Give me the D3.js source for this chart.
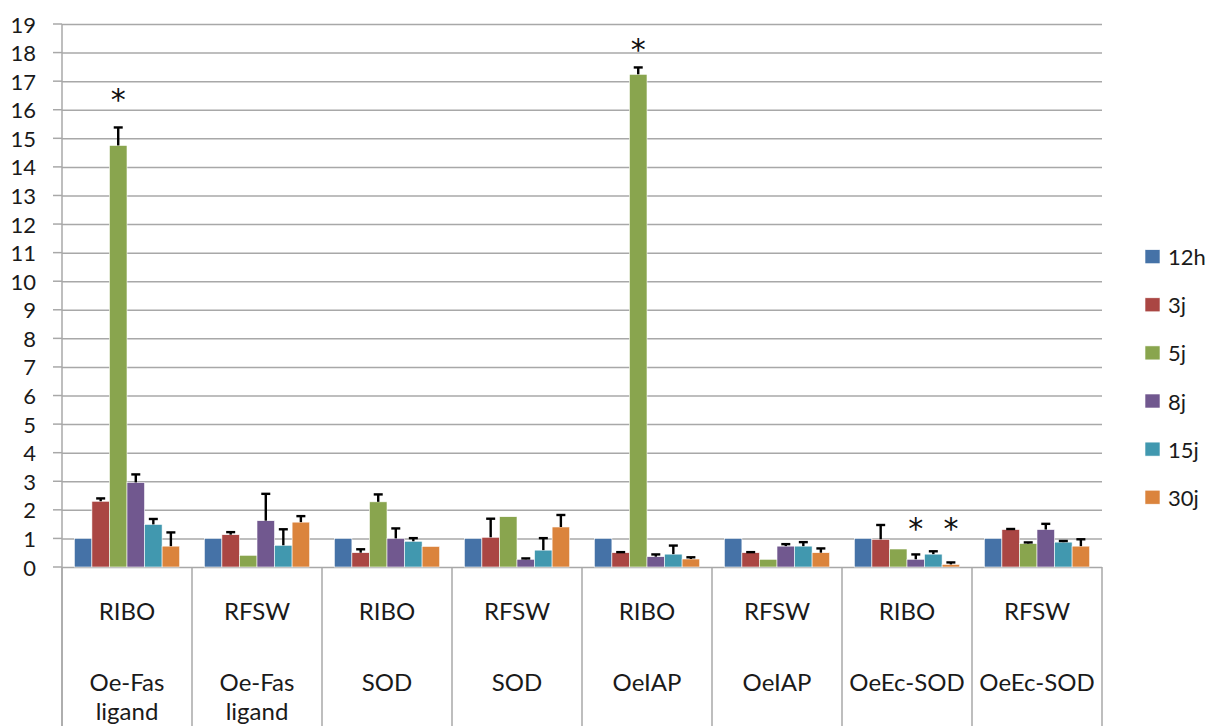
<!DOCTYPE html>
<html>
<head>
<meta charset="utf-8">
<script src="https://cdn.jsdelivr.net/npm/d3@7"></script>
<style>
  html, body { margin: 0; padding: 0; background: #fff; }
  svg { display: block; font-family: Lato, "Open Sans", sans-serif; }
</style>
</head>
<body>
<svg id="chart" width="1212" height="726"></svg>
<script>
// ---- data ----
const catLine1 = ["RIBO", "RFSW", "RIBO", "RFSW", "RIBO", "RFSW", "RIBO", "RFSW"];
const catLine2 = ["Oe-Fas\nligand", "Oe-Fas\nligand", "SOD", "SOD", "OeIAP", "OeIAP", "OeEc-SOD", "OeEc-SOD"];
const seriesNames = ["12h", "3j", "5j", "8j", "15j", "30j"];
const seriesColors = ["#4572A7", "#AA4643", "#89A54E", "#71588F", "#4198AF", "#DB843D"];

const v12h = [1, 1, 1, 1, 1, 1, 1, 1];
const v3j  = [2.30, 1.13, 0.50, 1.04, 0.50, 0.50, 0.97, 1.31];
const v5j  = [14.75, 0.41, 2.28, 1.76, 17.24, 0.27, 0.63, 0.82];
const v8j  = [2.96, 1.62, 1.00, 0.27, 0.36, 0.73, 0.27, 1.31];
const v15j = [1.49, 0.76, 0.90, 0.59, 0.45, 0.73, 0.45, 0.87];
const v30j = [0.73, 1.57, 0.72, 1.40, 0.28, 0.50, 0.09, 0.73];

const e12h = [0, 0, 0, 0, 0, 0, 0, 0];
const e3j  = [0.10, 0.09, 0.12, 0.65, 0.02, 0.02, 0.50, 0.02];
const e5j  = [0.63, 0, 0.26, 0, 0.24, 0, 0, 0.04];
const e8j  = [0.28, 0.94, 0.35, 0.03, 0.08, 0.07, 0.17, 0.20];
const e15j = [0.19, 0.56, 0.11, 0.42, 0.30, 0.14, 0.10, 0.04];
const e30j = [0.48, 0.21, 0, 0.42, 0.06, 0.15, 0.07, 0.24];

const yTicks = d3.range(0, 20);
// significance marks: category index, series index, y value of the mark
const starCat    = [0, 4, 6, 6];
const starSeries = [2, 2, 3, 5];
const starY      = [16.45, 18.2, 1.42, 1.42];

const values = [v12h, v3j, v5j, v8j, v15j, v30j];
const errors = [e12h, e3j, e5j, e8j, e15j, e30j];

// ---- layout ----
const svg = d3.select("#chart");
const plot = { left: 62, right: 1102, top: 24, bottom: 567 };

const y = d3.scaleLinear().domain([0, 19]).range([plot.bottom, plot.top]);
const x0 = d3.scaleBand().domain(d3.range(catLine1.length)).range([plot.left, plot.right]).padding(0);
const x1 = d3.scaleBand().domain(d3.range(seriesNames.length))
  .range([x0.bandwidth() * 0.095, x0.bandwidth() * 0.905]).padding(0);

const gridColor = "#a8a8a8";

// gridlines
const yAxis = d3.axisLeft(y).tickValues(yTicks).tickSize(-(plot.right - plot.left)).tickPadding(0).tickFormat("");
const gy = svg.append("g").attr("transform", `translate(${plot.left},0)`).call(yAxis);
gy.select(".domain").remove();
gy.selectAll(".tick line").attr("stroke", gridColor).attr("stroke-width", 1.5);
// outward tick marks
svg.append("g").selectAll("line").data(yTicks).join("line")
  .attr("x1", 53).attr("x2", plot.left)
  .attr("y1", d => y(d)).attr("y2", d => y(d))
  .attr("stroke", gridColor).attr("stroke-width", 1.5);
// tick labels
svg.append("g").selectAll("text").data(yTicks).join("text")
  .attr("x", 36).attr("y", d => y(d))
  .attr("text-anchor", "end").attr("dominant-baseline", "central")
  .attr("font-size", 22).attr("fill", "#1a1a1a")
  .text(d => d);

// left axis line
svg.append("line").attr("x1", plot.left).attr("x2", plot.left)
  .attr("y1", plot.top).attr("y2", 726)
  .attr("stroke", gridColor).attr("stroke-width", 1.5);
// category divider lines below the axis
svg.append("g").selectAll("line").data(d3.range(catLine1.length + 1)).join("line")
  .attr("x1", i => plot.left + i * x0.bandwidth())
  .attr("x2", i => plot.left + i * x0.bandwidth())
  .attr("y1", plot.bottom).attr("y2", 726)
  .attr("stroke", gridColor).attr("stroke-width", 1.5);

// bars
const groups = svg.append("g").selectAll("g").data(d3.range(catLine1.length)).join("g")
  .attr("transform", c => `translate(${x0(c)},0)`);

groups.selectAll("rect").data(c => seriesNames.map((s, i) => ({ c, i, v: values[i][c] })))
  .join("rect")
  .attr("x", d => x1(d.i))
  .attr("y", d => y(d.v))
  .attr("width", x1.bandwidth())
  .attr("height", d => y(0) - y(d.v))
  .attr("fill", d => seriesColors[d.i])
  .attr("stroke", "#ffffff").attr("stroke-width", 0.6);

// error bars
const errData = [];
for (let c = 0; c < catLine1.length; c++)
  for (let i = 0; i < seriesNames.length; i++)
    if (errors[i][c] > 0) errData.push({ c, i, v: values[i][c], e: errors[i][c] });

const eg = svg.append("g").attr("stroke", "#000").attr("stroke-width", 2.4);
eg.selectAll("line.v").data(errData).join("line").attr("class", "v")
  .attr("x1", d => x0(d.c) + x1(d.i) + x1.bandwidth() / 2)
  .attr("x2", d => x0(d.c) + x1(d.i) + x1.bandwidth() / 2)
  .attr("y1", d => y(d.v)).attr("y2", d => y(d.v + d.e));
eg.selectAll("line.h").data(errData).join("line").attr("class", "h")
  .attr("x1", d => x0(d.c) + x1(d.i) + x1.bandwidth() / 2 - 4.5)
  .attr("x2", d => x0(d.c) + x1(d.i) + x1.bandwidth() / 2 + 4.5)
  .attr("y1", d => y(d.v + d.e)).attr("y2", d => y(d.v + d.e));

// significance stars
svg.append("g").selectAll("text").data(d3.range(starCat.length)).join("text")
  .attr("x", k => x0(starCat[k]) + x1(starSeries[k]) + x1.bandwidth() / 2)
  .attr("y", k => y(starY[k]) + 13)
  .attr("text-anchor", "middle")
  .attr("font-family", "DejaVu Sans")
  .attr("font-size", 30).attr("fill", "#111")
  .text("*");

// category labels
const lab = svg.append("g").attr("fill", "#1a1a1a").attr("font-size", 24).attr("text-anchor", "middle");
lab.selectAll("text.l1").data(catLine1).join("text").attr("class", "l1")
  .attr("x", (d, i) => x0(i) + x0.bandwidth() / 2)
  .attr("y", 620)
  .text(d => d);
lab.selectAll("text.l2").data(catLine2).join("text").attr("class", "l2")
  .attr("x", (d, i) => x0(i) + x0.bandwidth() / 2)
  .attr("y", 691)
  .each(function (d, i) {
    const parts = d.split("\n");
    const t = d3.select(this);
    parts.forEach((p, k) => {
      t.append("tspan").attr("x", x0(i) + x0.bandwidth() / 2).attr("dy", k === 0 ? 0 : 29).text(p);
    });
  });

// legend
const leg = svg.append("g").selectAll("g").data(seriesNames).join("g")
  .attr("transform", (d, i) => `translate(1145, ${256.7 + i * 48.1})`);
leg.append("rect").attr("x", 0).attr("y", -7).attr("width", 15).attr("height", 14)
  .attr("fill", (d, i) => seriesColors[i]).attr("stroke", "#fff").attr("stroke-width", 0.6);
leg.append("text").attr("x", 23).attr("y", 0).attr("dominant-baseline", "central")
  .attr("font-size", 22).attr("fill", "#1a1a1a").text(d => d);
</script>
</body>
</html>
